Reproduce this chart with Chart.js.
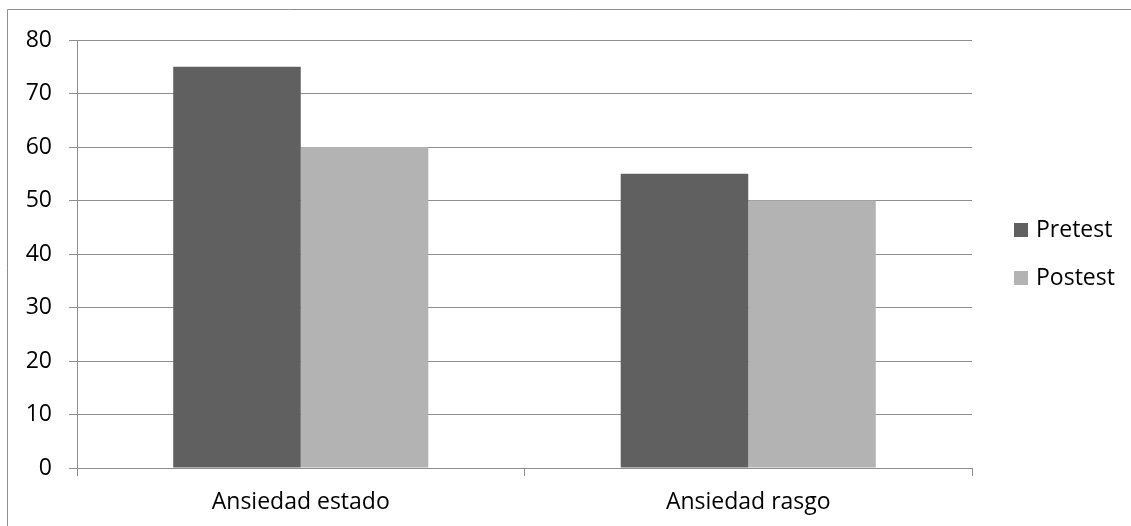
<!DOCTYPE html>
<html>
<head>
<meta charset="utf-8">
<script src="https://cdn.jsdelivr.net/npm/chart.js@4/dist/chart.umd.min.js"></script>
<style>
  html, body { margin: 0; padding: 0; background: #ffffff; }
  #wrap { width: 1131px; height: 526px; }
</style>
</head>
<body>
<div id="wrap"><canvas id="c" width="1131" height="526"></canvas></div>
<script>
// Anxiety scores before and after the intervention
const categories = ['Ansiedad estado', 'Ansiedad rasgo'];
const pretest = [75, 55];
const postest = [60, 50];
const seriesNames = ['Pretest', 'Postest'];
const yTicks = [0, 10, 20, 30, 40, 50, 60, 70, 80];

const GRID = '#8e8e8e';
const FONT = "'Open Sans', 'Liberation Sans', sans-serif";
const FONT_SIZE = 23;

// Thin frame along the top and left of the chart box
const framePlugin = {
  id: 'frame',
  afterDraw(chart) {
    const ctx = chart.ctx;
    ctx.save();
    ctx.strokeStyle = GRID;
    ctx.lineWidth = 1;
    ctx.beginPath();
    ctx.moveTo(7.5, chart.height);
    ctx.lineTo(7.5, 9.5);
    ctx.lineTo(chart.width, 9.5);
    ctx.stroke();
    ctx.restore();
  }
};

// Legend at the right, vertically centred on the plot
const sideLegend = {
  id: 'sideLegend',
  afterDraw(chart) {
    const ctx = chart.ctx;
    const area = chart.chartArea;
    const x = area.right + 42;
    const mid = (area.top + area.bottom) / 2;
    const gap = 48;
    const sets = chart.data.datasets;
    const y0 = mid - gap * (sets.length - 1) / 2;
    ctx.save();
    ctx.font = FONT_SIZE + 'px ' + FONT;
    ctx.textBaseline = 'middle';
    ctx.textAlign = 'left';
    sets.forEach((ds, i) => {
      const y = y0 + i * gap;
      ctx.fillStyle = ds.backgroundColor;
      ctx.fillRect(x, Math.round(y - 7), 14, 14);
      ctx.fillStyle = '#000000';
      ctx.fillText(ds.label, x + 22, y);
    });
    ctx.restore();
  }
};

new Chart(document.getElementById('c'), {
  type: 'bar',
  data: {
    labels: categories,
    datasets: [
      { label: seriesNames[0], data: pretest, backgroundColor: '#606060' },
      { label: seriesNames[1], data: postest, backgroundColor: '#b3b3b3' }
    ]
  },
  options: {
    responsive: false,
    animation: false,
    devicePixelRatio: 1,
    layout: { padding: { top: 40, right: 159, left: 0, bottom: 0 } },
    datasets: { bar: { categoryPercentage: 0.57, barPercentage: 1.0 } },
    plugins: {
      legend: { display: false },
      tooltip: { enabled: false }
    },
    scales: {
      x: {
        grid: {
          offset: true,
          drawOnChartArea: false,
          drawTicks: true,
          tickLength: 8,
          color: GRID,
          lineWidth: 1
        },
        border: { display: true, color: GRID, width: 1 },
        ticks: {
          color: '#000000',
          font: { family: FONT, size: FONT_SIZE },
          padding: 13,
          maxRotation: 0
        },
        afterFit(scale) { scale.height = 58; }
      },
      y: {
        min: 0,
        max: 80,
        afterBuildTicks(scale) { scale.ticks = yTicks.map(v => ({ value: v })); },
        grid: {
          color: GRID,
          lineWidth: 1,
          drawTicks: true,
          tickLength: 8
        },
        border: { display: true, color: GRID, width: 1 },
        ticks: {
          color: '#000000',
          font: { family: FONT, size: FONT_SIZE },
          padding: 17
        },
        afterFit(scale) { scale.width = 77; }
      }
    }
  },
  plugins: [framePlugin, sideLegend]
});
</script>
</body>
</html>
